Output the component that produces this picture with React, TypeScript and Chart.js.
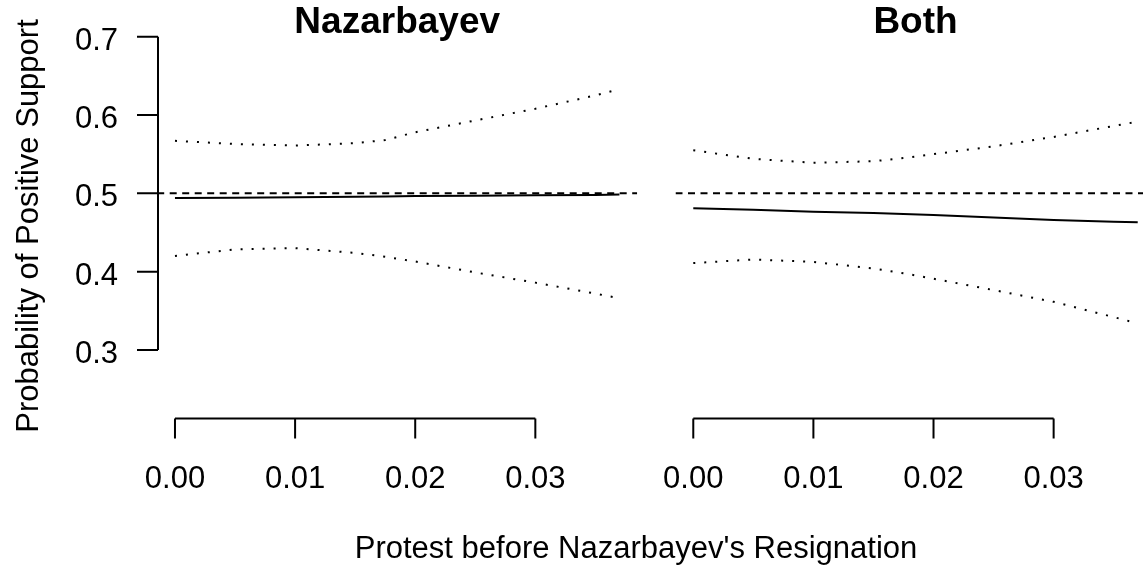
import { useEffect, useRef } from "react";
import { Chart, registerables } from "chart.js";

Chart.register(...registerables);

// ---- data ----
const protest = [0, 0.005, 0.01, 0.015, 0.0175, 0.02, 0.025, 0.03, 0.035, 0.037];

const nazMean = [0.494, 0.4945, 0.495, 0.4955, 0.496, 0.4965, 0.497, 0.4975, 0.498, 0.4985];
const nazUpper = [0.567, 0.563, 0.561, 0.564, 0.568, 0.578, 0.593, 0.608, 0.625, 0.633];
const nazLower = [0.42, 0.4285, 0.43, 0.424, 0.419, 0.413, 0.399, 0.386, 0.372, 0.366];

const bothMean = [0.481, 0.479, 0.4766, 0.475, 0.4735, 0.4723, 0.469, 0.466, 0.4638, 0.463];
const bothUpper = [0.555, 0.544, 0.539, 0.541, 0.545, 0.55, 0.56, 0.572, 0.586, 0.5915];
const bothLower = [0.411, 0.4155, 0.4125, 0.404, 0.398, 0.391, 0.3765, 0.3615, 0.342, 0.334];

const panelTitles = ["Nazarbayev", "Both"];
const xTicks = [0, 0.01, 0.02, 0.03];
const xTickLabels = ["0.00", "0.01", "0.02", "0.03"];
const yTicks = [0.3, 0.4, 0.5, 0.6, 0.7];
const yTickLabels = ["0.3", "0.4", "0.5", "0.6", "0.7"];
const yLimits = [0.2, 0.7];
const referenceLevel = 0.5;
const xTitle = "Protest before Nazarbayev's Resignation";
const yTitle = "Probability of Positive Support";

// ---- layout / style ----
const W = 1143;
const H = 573;
const FONT = "'Liberation Sans', Arial, Helvetica, sans-serif";
const FS = 31;
const TITLE_FS = 37;

const xMinData = Math.min(...protest);
const xMaxData = Math.max(...protest);
const xPad = (xMaxData - xMinData) * 0.04;
const xMin = xMinData - xPad;
const xMax = xMaxData + xPad;
const yPad = (yLimits[1] - yLimits[0]) * 0.04;
const yMin = yLimits[0] - yPad;
const yMax = yLimits[1] + yPad;

const rAxesPlugin = {
  id: "rAxes",
  afterDraw(chart: any, _args: any, opts: any) {
    const ctx = chart.ctx;
    const xs = chart.scales.x;
    const ys = chart.scales.y;
    const area = chart.chartArea;
    ctx.save();
    ctx.strokeStyle = "#000";
    ctx.fillStyle = "#000";
    ctx.lineWidth = 2;
    ctx.lineCap = "butt";

    // x axis (drawn below the data, R style)
    const axisY = 418.5;
    const tickLen = 20;
    const x0 = xs.getPixelForValue(xTicks[0]);
    const x1 = xs.getPixelForValue(xTicks[xTicks.length - 1]);
    ctx.beginPath();
    ctx.moveTo(x0, axisY);
    ctx.lineTo(x1, axisY);
    xTicks.forEach((v) => {
      const px = xs.getPixelForValue(v);
      ctx.moveTo(px, axisY);
      ctx.lineTo(px, axisY + tickLen);
    });
    ctx.stroke();
    ctx.font = `${FS}px ${FONT}`;
    ctx.textAlign = "center";
    ctx.textBaseline = "alphabetic";
    xTicks.forEach((v, i) => {
      ctx.fillText(xTickLabels[i], xs.getPixelForValue(v), 488);
    });

    // y axis
    if (opts.showY) {
      const ax = Math.round(area.left) + 1;
      const yA = ys.getPixelForValue(yTicks[0]);
      const yB = ys.getPixelForValue(yTicks[yTicks.length - 1]);
      ctx.beginPath();
      ctx.moveTo(ax, yA);
      ctx.lineTo(ax, yB);
      yTicks.forEach((v) => {
        const py = ys.getPixelForValue(v);
        ctx.moveTo(ax, py);
        ctx.lineTo(ax - 21, py);
      });
      ctx.stroke();
      ctx.textAlign = "right";
      yTicks.forEach((v, i) => {
        ctx.fillText(yTickLabels[i], ax - 40, ys.getPixelForValue(v) + 13);
      });

      // y title
      ctx.save();
      ctx.translate(38, 226);
      ctx.rotate(-Math.PI / 2);
      ctx.textAlign = "center";
      ctx.textBaseline = "alphabetic";
      ctx.fillText(yTitle, 0, 0);
      ctx.restore();

      // x title (shared)
      ctx.textAlign = "center";
      ctx.fillText(xTitle, 636, 558);
    }

    // panel title
    ctx.font = `bold ${TITLE_FS}px ${FONT}`;
    ctx.textAlign = "center";
    ctx.fillText(opts.title, (area.left + area.right) / 2, 33);
    ctx.restore();
  },
};

function makeConfig(
  mean: number[],
  upper: number[],
  lower: number[],
  title: string,
  showY: boolean,
  padding: { left: number; right: number; top: number; bottom: number }
): any {
  const pts = (arr: number[]) => protest.map((x, i) => ({ x, y: arr[i] }));
  const lineBase = {
    showLine: true,
    pointRadius: 0,
    pointHoverRadius: 0,
    tension: 0,
    borderColor: "#000",
    backgroundColor: "#000",
    fill: false,
  };
  return {
    type: "scatter",
    data: {
      datasets: [
        {
          ...lineBase,
          label: "reference",
          data: [
            { x: xMin, y: referenceLevel },
            { x: xMax, y: referenceLevel },
          ],
          borderWidth: 2,
          borderDash: [7, 5.5],
        },
        { ...lineBase, label: "upper", data: pts(upper), borderWidth: 2, borderDash: [2, 9] },
        { ...lineBase, label: "lower", data: pts(lower), borderWidth: 2, borderDash: [2, 9] },
        { ...lineBase, label: "mean", data: pts(mean), borderWidth: 2 },
      ],
    },
    options: {
      responsive: false,
      animation: false,
      devicePixelRatio: 1,
      layout: { padding },
      plugins: {
        legend: { display: false },
        tooltip: { enabled: false },
        title: { display: false },
        rAxes: { title, showY },
      },
      scales: {
        x: { type: "linear", min: xMin, max: xMax, display: false },
        y: { type: "linear", min: yMin, max: yMax, display: false },
      },
    },
    plugins: [rAxesPlugin],
  };
}

export default function App() {
  const leftRef = useRef<HTMLCanvasElement | null>(null);
  const rightRef = useRef<HTMLCanvasElement | null>(null);

  useEffect(() => {
    const top = 21;
    const bottom = H - 444;
    const left = new Chart(
      leftRef.current as HTMLCanvasElement,
      makeConfig(nazMean, nazUpper, nazLower, panelTitles[0], true, {
        left: 157.2,
        right: W - 637.2,
        top,
        bottom,
      })
    );
    const RW = 1170;
    const right = new Chart(
      rightRef.current as HTMLCanvasElement,
      makeConfig(bothMean, bothUpper, bothLower, panelTitles[1], false, {
        left: 675.5,
        right: RW - 1155.5,
        top,
        bottom,
      })
    );
    return () => {
      left.destroy();
      right.destroy();
    };
  }, []);

  return (
    <div
      style={{
        position: "absolute",
        left: 0,
        top: 0,
        width: W,
        height: H,
        overflow: "hidden",
        background: "#fff",
      }}
    >
      <canvas
        ref={leftRef}
        width={W}
        height={H}
        style={{ position: "absolute", left: 0, top: 0, width: W, height: H }}
      />
      <canvas
        ref={rightRef}
        width={1170}
        height={H}
        style={{ position: "absolute", left: 0, top: 0, width: 1170, height: H }}
      />
    </div>
  );
}
